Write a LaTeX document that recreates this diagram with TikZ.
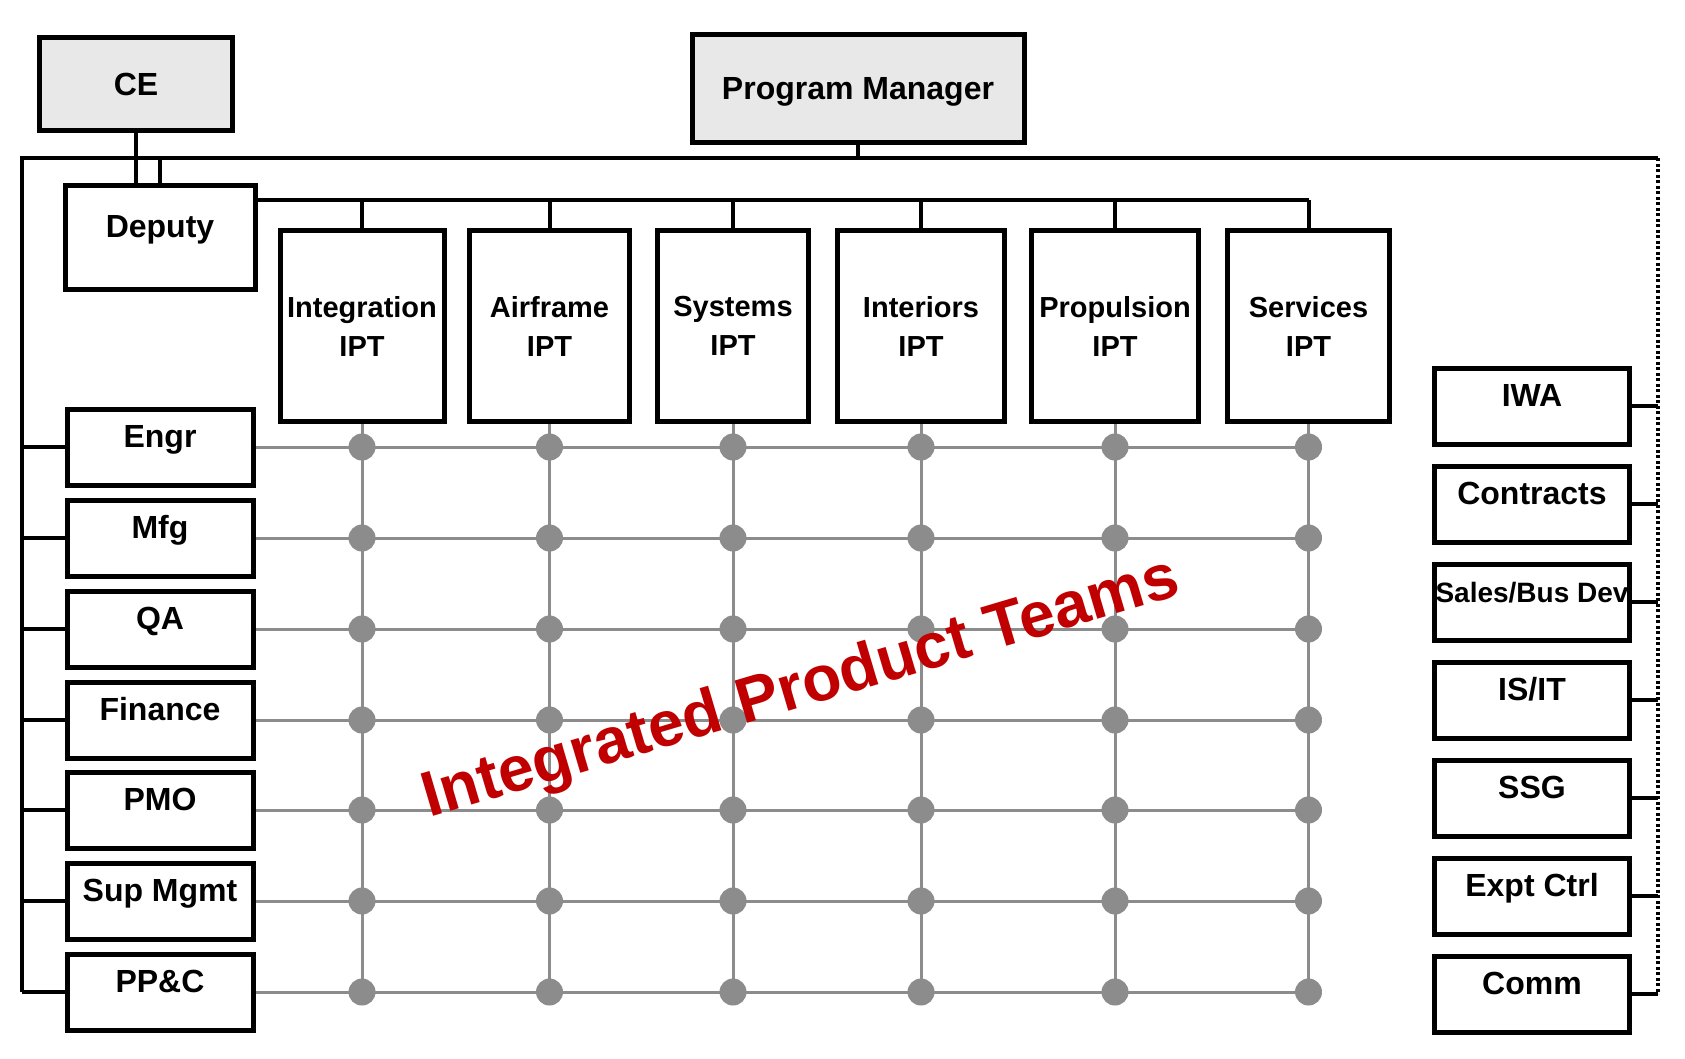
\documentclass[tikz,border=0pt]{standalone}
\usepackage{fontspec}
\setmainfont{Liberation Sans}
\usepackage{tikz}
\usetikzlibrary{positioning}
\definecolor{iptred}{RGB}{192,0,0}
\definecolor{meshgray}{RGB}{140,140,140}
\definecolor{headgray}{RGB}{232,232,232}

\begin{document}
\begin{tikzpicture}[x=1pt,y=-1pt,
  plainbox/.style={draw,line width=5pt,inner sep=0pt,fill=white,
    font=\bfseries\fontsize{32}{38}\selectfont},
  headbox/.style={plainbox,fill=headgray},
  fnbox/.style={plainbox,minimum width=186pt,text height=38pt,text depth=38pt},
  svcbox/.style={plainbox,minimum width=195pt,text height=38pt,text depth=38pt},
  iptbox/.style={plainbox,minimum height=191pt,align=center,
    font=\bfseries\fontsize{29}{39}\selectfont},
  wire/.style={line width=4pt},
  mesh/.style={line width=3pt,meshgray},
  meshdot/.style={circle,fill=meshgray,minimum size=27pt,inner sep=0pt}]
\useasboundingbox (0,0) rectangle (1685,1058);

% top of the chart
\node[headbox,minimum width=193pt,minimum height=93pt] (ce) at (136,84) {CE};
\node[headbox,minimum width=332pt,minimum height=108pt,text depth=0pt] (pm) at (858,88) {Program Manager};
\node[fnbox,minimum width=190pt,text height=52pt,text depth=52pt] (dep) at (160,237) {Deputy};

% the IPTs
\node[iptbox,minimum width=164pt] (integ) at (362,326) {Integration\\IPT};
\node[iptbox,minimum width=160pt] (airf) at (549.5,326) {Airframe\\IPT};
\node[iptbox,minimum width=151pt] (sys) at (733,326) {Systems\\IPT};
\node[iptbox,minimum width=167pt] (inter) at (921,326) {Interiors\\IPT};
\node[iptbox,minimum width=167pt] (prop) at (1115,326) {Propulsion\\IPT};
\node[iptbox,minimum width=162pt] (serv) at (1308.5,326) {Services\\IPT};

% functions on the left
\node[fnbox] (engr) at (160,447) {Engr};
\node[fnbox] (mfg) at (160,538) {Mfg};
\node[fnbox] (qa) at (160,629) {QA};
\node[fnbox] (fin) at (160,720) {Finance};
\node[fnbox] (pmo) at (160,810) {PMO};
\node[fnbox] (sup) at (160,901) {Sup Mgmt};
\node[fnbox] (ppc) at (160,992) {PP\&C};

% services on the right
\node[svcbox] (iwa) at (1532,406) {IWA};
\node[svcbox] (contr) at (1532,504) {Contracts};
\node[svcbox,font=\bfseries\fontsize{28}{32}\selectfont] (sales) at (1532,602) {Sales/Bus Dev};
\node[svcbox] (isit) at (1532,700) {IS/IT};
\node[svcbox] (ssg) at (1532,798) {SSG};
\node[svcbox] (expt) at (1532,896) {Expt Ctrl};
\node[svcbox] (comm) at (1532,994) {Comm};

\coordinate (tl) at (22,158);
\coordinate (tr) at (1658,158);
\coordinate (bus) at (258,200);

\draw[wire] (pm.south) -- (pm.south |- tl);
\draw[wire] (tl |- ppc.west) -- (tl) -- (tr);
\draw[wire,dash pattern=on 3pt off 2.5pt] (tr) -- (tr |- comm.east);
\draw[wire] (ce.south) -- (ce.south |- dep.north);
\draw[wire] (dep.north) -- (dep.north |- tl);
\draw[wire] (bus) -- (bus -| serv.north);
\foreach \t in {integ,airf,sys,inter,prop,serv}
  \draw[wire] (\t.north) -- (\t.north |- bus);
\foreach \f in {engr,mfg,qa,fin,pmo,sup,ppc}
  \draw[wire] (\f.west) -- (\f.west -| tl);
\foreach \s in {iwa,contr,sales,isit,ssg,expt,comm}
  \draw[wire] (\s.east) -- (\s.east -| tr);

% matrix of teams
\foreach \f in {engr,mfg,qa,fin,pmo,sup,ppc}
  \draw[mesh] (\f.east) -- (\f.east -| serv.south);
\foreach \t in {integ,airf,sys,inter,prop,serv}
  \draw[mesh] (\t.south) -- (\t.south |- ppc.east);
\foreach \t in {integ,airf,sys,inter,prop,serv}
  \foreach \f in {engr,mfg,qa,fin,pmo,sup,ppc}
    \node[meshdot] (\t-\f) at (\t.south |- \f.east) {};

\node[anchor=base,rotate=16.5,text=iptred,font=\bfseries\fontsize{64}{70}\selectfont]
  (teams) at (806,706) {Integrated Product Teams};
\end{tikzpicture}
\end{document}
